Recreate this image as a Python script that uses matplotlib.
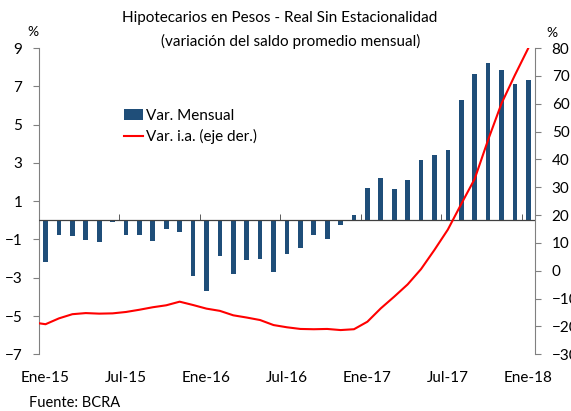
import matplotlib
matplotlib.use('Agg')
import matplotlib.pyplot as plt
import numpy as np

plt.rcParams['font.family'] = ['Lato', 'DejaVu Sans']

# monthly data Ene-15 .. Ene-18
var_mensual = [-2.19, -0.78, -0.84, -1.01, -1.15, -0.10, -0.78, -0.75, -1.08, -0.45, -0.61, -2.90,
               -3.70, -1.86, -2.78, -2.07, -2.00, -2.70, -1.76, -1.44, -0.78, -1.00, -0.22, 0.26,
               1.71, 2.21, 1.66, 2.12, 3.17, 3.43, 3.69, 6.30, 7.66, 8.22, 7.83, 7.12, 7.31]
# year-on-year, Dic-14 .. Ene-18 (Dic-14 only shows at the left edge)
var_ia = [-18.5, -19.2, -17.1, -15.6, -15.2, -15.4, -15.3, -14.8, -14.0, -13.1, -12.4, -11.1, -12.3,
          -13.6, -14.4, -16.0, -16.8, -17.7, -19.5, -20.3, -20.9, -21.0, -20.9, -21.3, -21.0,
          -18.3, -13.5, -9.3, -4.9, 0.6, 7.5, 14.8, 24.0, 33.0, 47.0, 60.1, 70.3, 80.0]
tick_labels = ['Ene-15', 'Jul-15', 'Ene-16', 'Jul-16', 'Ene-17', 'Jul-17', 'Ene-18']

bar_color = '#1f4e79'
grey = '#808080'

fig = plt.figure(figsize=(5.71, 4.11), dpi=100)
ax = fig.add_axes([0.068, 0.138, 0.869, 0.745])
ax2 = ax.twinx()

x = np.arange(len(var_mensual))
x_ia = np.arange(-1, len(var_ia) - 1)
ax.bar(x, var_mensual, width=0.35, color=bar_color, label='Var. Mensual', zorder=2)
ax2.plot(x_ia, var_ia, color='red', lw=1.5, label='Var. i.a. (eje der.)')

ax.set_xlim(-0.5, len(x) - 0.5)
ax2.set_xlim(-0.5, len(x) - 0.5)
ax.set_ylim(-7, 9)
ax.set_yticks(np.arange(-7, 10, 2))
ax2.set_ylim(-30, 80)
ax2.set_yticks(np.arange(-30, 81, 10))

# zero line with ticks pointing up
ax.axhline(0, color='#404040', lw=0.9, zorder=3)
ax.spines['top'].set_position(('data', 0))
ax.set_xticks(x[::6])
ax.set_xticklabels(tick_labels)
ax.set_xticks(np.arange(5.5, len(x) - 1, 6), minor=True)
ax.tick_params(axis='x', which='major', length=0, pad=12, labelsize=11)
ax.tick_params(axis='x', which='minor', bottom=False, top=True, direction='out',
               length=4, color='#404040')

for a in (ax, ax2):
    a.spines['bottom'].set_visible(False)
    a.spines['top'].set_visible(False)
ax.spines['right'].set_visible(False)
ax.spines['left'].set_color(grey)
ax2.spines['left'].set_visible(False)
ax2.spines['right'].set_color(grey)
ax.tick_params(axis='y', length=4, color=grey, labelsize=11, pad=8)
ax2.tick_params(axis='y', length=4, color=grey, labelsize=11, pad=8)

ax.set_zorder(ax2.get_zorder() - 1)
ax.patch.set_visible(False)

h1, l1 = ax.get_legend_handles_labels()
h2, l2 = ax2.get_legend_handles_labels()
ax2.legend(h1 + h2, l1 + l2, loc='upper left', bbox_to_anchor=(0.16, 0.822),
           frameon=False, fontsize=11, handlelength=1.2, handletextpad=0.2,
           labelspacing=0.4, borderaxespad=0)

fig.text(0.49, 0.957, 'Hipotecarios en Pesos - Real Sin Estacionalidad',
         ha='center', va='center', fontsize=11)
fig.text(0.509, 0.899, '(variación del saldo promedio mensual)',
         ha='center', va='center', fontsize=11)
fig.text(0.058, 0.922, '%', ha='center', va='center', fontsize=10)
fig.text(0.966, 0.919, '%', ha='center', va='center', fontsize=10)
fig.text(0.05, 0.02, 'Fuente: BCRA', ha='left', va='center', fontsize=10.5)

fig.savefig('out.png', dpi=100)
